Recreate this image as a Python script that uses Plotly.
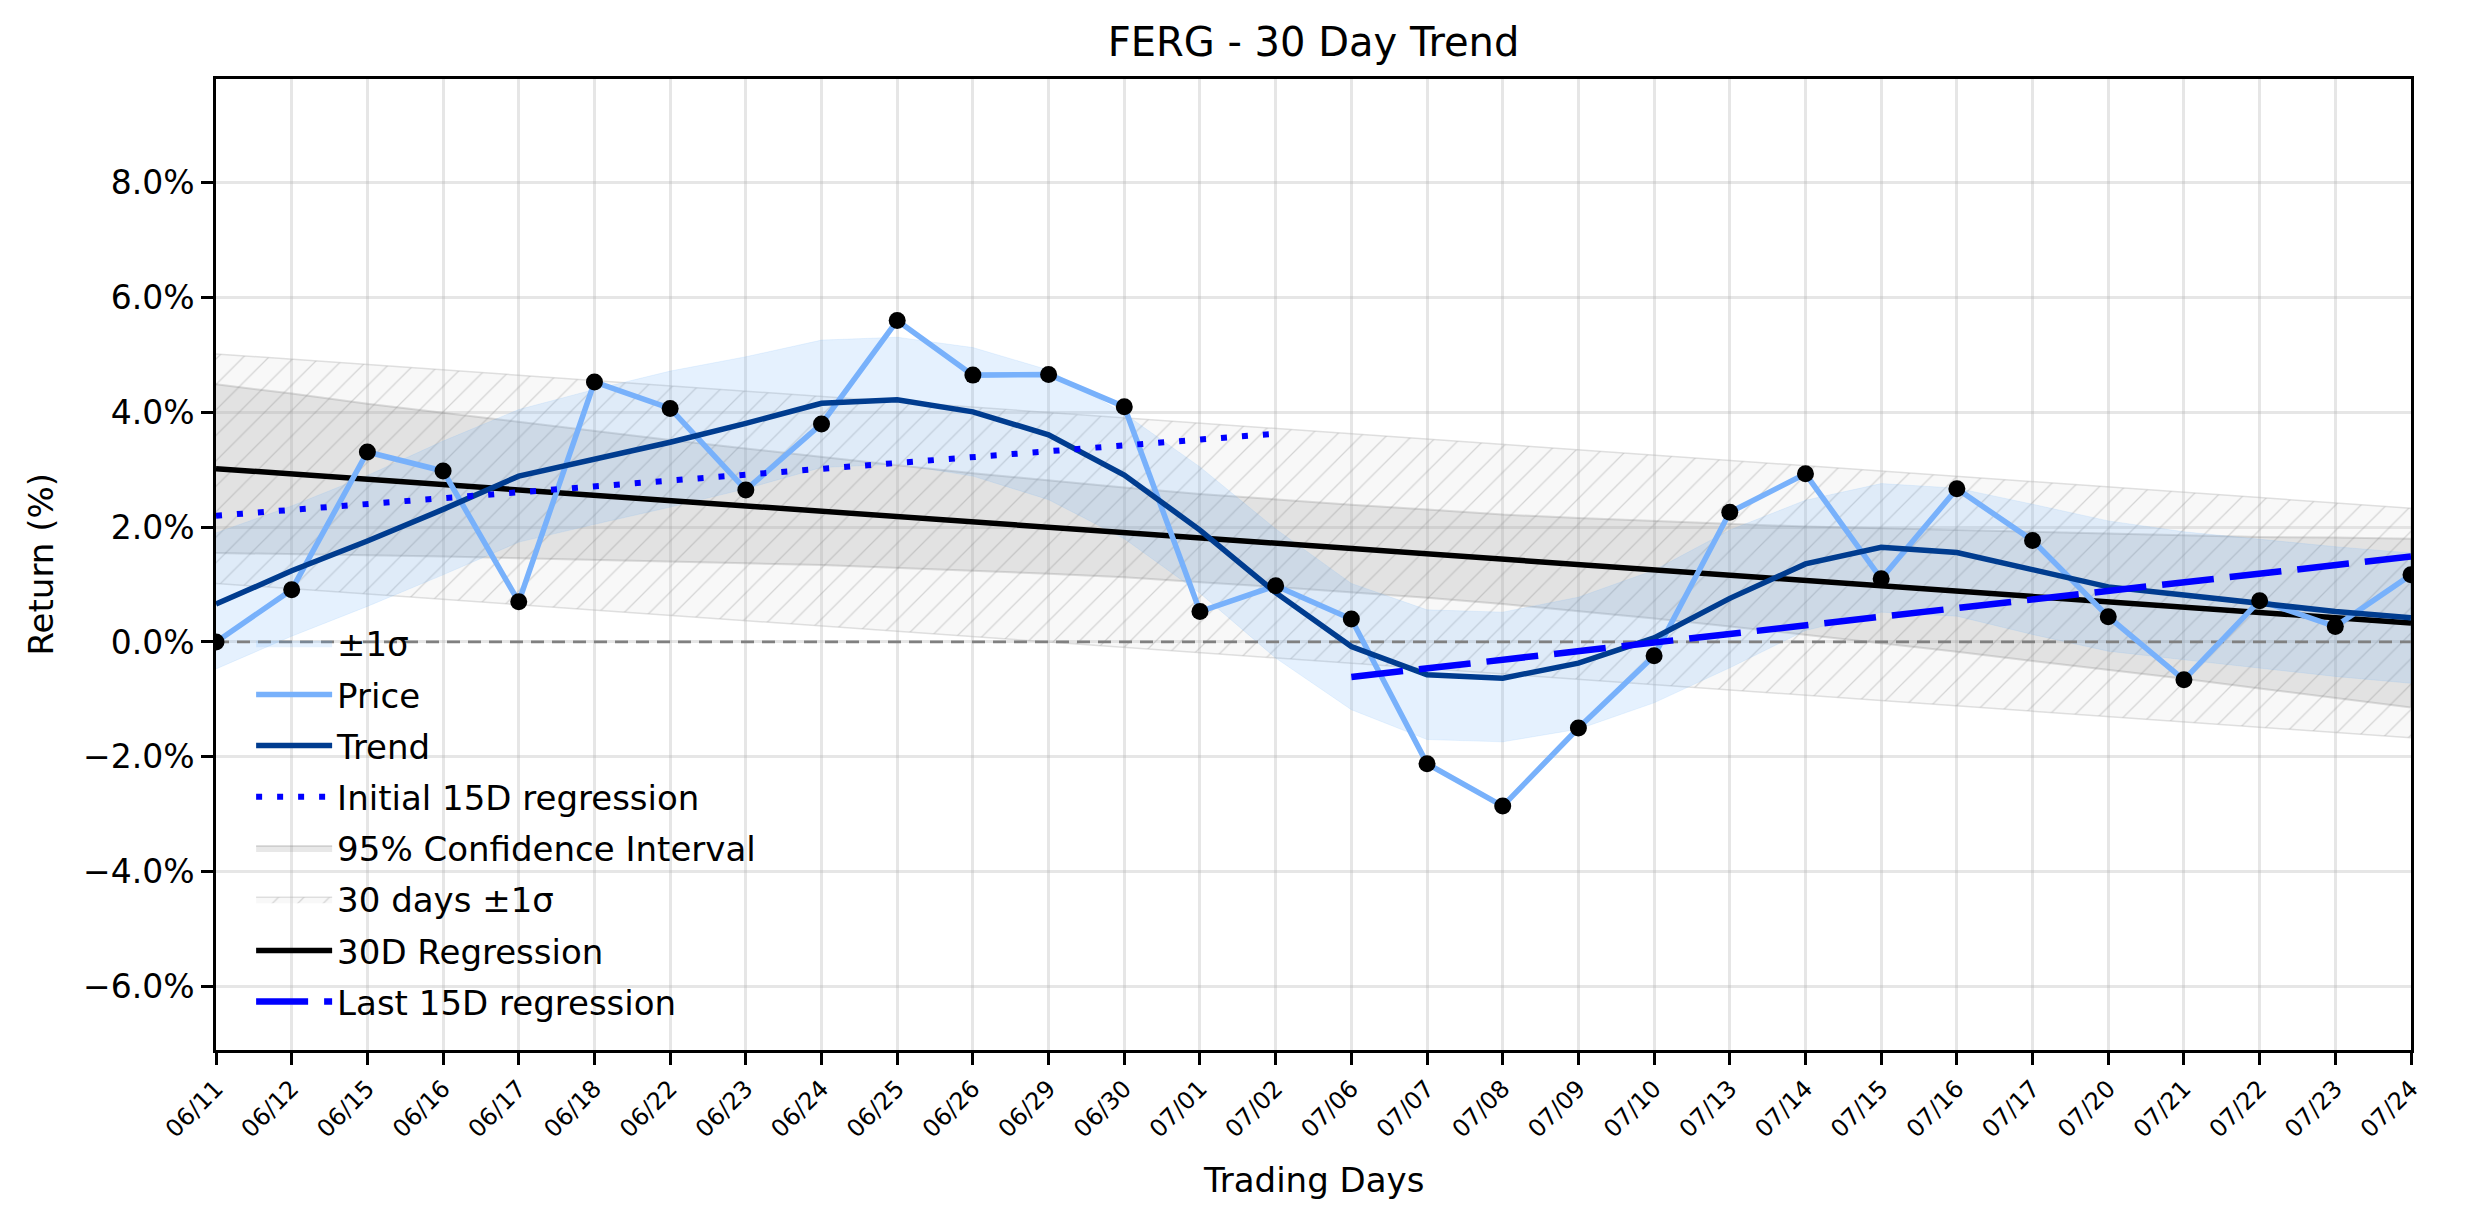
import plotly.graph_objects as go

# ---------------- data ----------------
dates = ["06/11", "06/12", "06/15", "06/16", "06/17", "06/18", "06/22", "06/23", "06/24", "06/25",
         "06/26", "06/29", "06/30", "07/01", "07/02", "07/06", "07/07", "07/08", "07/09", "07/10",
         "07/13", "07/14", "07/15", "07/16", "07/17", "07/20", "07/21", "07/22", "07/23", "07/24"]

price = [0.00, 0.91, 3.31, 2.98, 0.70, 4.53, 4.07, 2.65, 3.80, 5.60,
         4.65, 4.66, 4.10, 0.53, 0.98, 0.40, -2.12, -2.86, -1.50, -0.24,
         2.26, 2.93, 1.10, 2.67, 1.77, 0.44, -0.66, 0.72, 0.27, 1.17]

trend = [0.66, 1.24, 1.76, 2.31, 2.89, 3.18, 3.48, 3.81, 4.16, 4.22,
         4.01, 3.61, 2.91, 1.95, 0.86, -0.08, -0.57, -0.63, -0.37, 0.07,
         0.76, 1.36, 1.65, 1.56, 1.25, 0.96, 0.82, 0.67, 0.53, 0.42]

band_upper = [1.90, 2.37, 2.90, 3.50, 4.05, 4.40, 4.72, 4.97, 5.26, 5.31,
              5.13, 4.74, 3.98, 3.05, 1.97, 1.02, 0.56, 0.52, 0.78, 1.25,
              1.95, 2.47, 2.76, 2.68, 2.40, 2.11, 1.92, 1.79, 1.66, 1.55]

band_lower = [-0.47, 0.10, 0.62, 1.17, 1.74, 2.05, 2.35, 2.67, 3.04, 3.10,
              2.89, 2.48, 1.80, 0.85, -0.28, -1.18, -1.70, -1.74, -1.52, -1.06,
              -0.45, 0.20, 0.52, 0.45, 0.13, -0.16, -0.31, -0.46, -0.60, -0.72]

ci_upper = [4.49, 4.33, 4.15, 3.99, 3.84, 3.68, 3.52, 3.37, 3.22, 3.08,
            2.94, 2.81, 2.69, 2.58, 2.48, 2.39, 2.31, 2.22, 2.16, 2.11,
            2.05, 2.01, 1.98, 1.95, 1.91, 1.89, 1.86, 1.83, 1.82, 1.80]

ci_lower = [1.55, 1.53, 1.51, 1.49, 1.46, 1.44, 1.40, 1.37, 1.34, 1.30,
            1.24, 1.19, 1.13, 1.04, 0.96, 0.87, 0.77, 0.66, 0.54, 0.41,
            0.27, 0.13, -0.02, -0.17, -0.33, -0.49, -0.64, -0.81, -0.98, -1.14]

reg30_ends = [3.02, 0.33]          # 30D regression at first / last day
sigma_upper_ends = [5.02, 2.33]    # 30 days +1 sigma
sigma_lower_ends = [1.02, -1.67]   # 30 days -1 sigma
init15_ends = [2.20, 3.63]         # initial 15D regression (days 1..15)
last15_ends = [-0.61, 1.49]        # last 15D regression (days 16..30)
zero_level = 0.0

y_ticks = [-6, -4, -2, 0, 2, 4, 6, 8]
y_ticktext = [("\u2212" if v < 0 else "") + f"{abs(v):.1f}%" for v in y_ticks]

# ---------------- figure ----------------
n = len(dates)
xi = list(range(n))
first, last = xi[0], xi[-1]
half = n // 2

FONT = "DejaVu Sans"
fig = go.Figure()

# 30 days ±1σ hatched band
fig.add_trace(go.Scatter(
    x=[first, last, last, first], y=[sigma_upper_ends[0], sigma_upper_ends[1], sigma_lower_ends[1], sigma_lower_ends[0]],
    fill="toself", mode="lines", line=dict(color="rgba(180,180,180,0.4)", width=1.5),
    fillcolor="rgba(0,0,0,0)",
    fillpattern=dict(shape="/", size=18, solidity=0.07, fgcolor="rgba(160,160,160,0.4)",
                     bgcolor="rgba(210,210,210,0.14)", fillmode="replace"),
    name="30 days ±1σ", legendgroup="g6", legendrank=6, hoverinfo="skip"))

# 95% confidence interval
fig.add_trace(go.Scatter(
    x=xi + xi[::-1], y=ci_upper + ci_lower[::-1],
    fill="toself", mode="lines", line=dict(color="rgba(128,128,128,0.25)", width=2),
    fillcolor="rgba(128,128,128,0.18)",
    name="95% Confidence Interval", legendgroup="g5", legendrank=5, hoverinfo="skip"))

# ±1σ band around trend
fig.add_trace(go.Scatter(
    x=xi + xi[::-1], y=band_upper + band_lower[::-1],
    fill="toself", mode="lines", line=dict(color="rgba(100,170,250,0.12)", width=1),
    fillcolor="rgba(100,170,250,0.17)",
    name="±1σ", legendgroup="g1", legendrank=1, hoverinfo="skip"))

# zero line
fig.add_trace(go.Scatter(
    x=[first, last], y=[zero_level, zero_level], mode="lines",
    line=dict(color="#808080", width=2.8, dash="13px,8px"), showlegend=False, hoverinfo="skip"))

# 30D regression
fig.add_trace(go.Scatter(
    x=[first, last], y=reg30_ends, mode="lines", line=dict(color="black", width=5.5),
    name="30D Regression", legendgroup="g7", legendrank=7))

# Price
fig.add_trace(go.Scatter(
    x=xi, y=price, mode="lines", line=dict(color="#78B1FB", width=5.5),
    name="Price", legendgroup="g2", legendrank=2))

# Trend
fig.add_trace(go.Scatter(
    x=xi, y=trend, mode="lines", line=dict(color="#003C8F", width=5.5),
    name="Trend", legendgroup="g3", legendrank=3))

# Initial 15D regression
fig.add_trace(go.Scatter(
    x=[first, half - 1], y=init15_ends, mode="lines",
    line=dict(color="#0000FF", width=6, dash="6px,15px"),
    name="Initial 15D regression", legendgroup="g4", legendrank=4))

# Last 15D regression
fig.add_trace(go.Scatter(
    x=[half, last], y=last15_ends, mode="lines",
    line=dict(color="#0000FF", width=6.5, dash="52px,16px"),
    name="Last 15D regression", legendgroup="g8", legendrank=8))

# price markers
fig.add_trace(go.Scatter(
    x=xi, y=price, mode="markers", marker=dict(color="black", size=17),
    showlegend=False, hoverinfo="skip"))

W, H = 2474, 1224
ML, MR, MT, MB = 216, 63, 79, 174

fig.update_layout(
    width=W, height=H,
    margin=dict(l=ML, r=MR, t=MT, b=MB, pad=0),
    paper_bgcolor="white", plot_bgcolor="white",
    font=dict(family=FONT, size=34, color="black"),
    title=dict(text="FERG - 30 Day Trend", x=0.5, xref="paper", y=1 - 42 / H, yref="container",
               xanchor="center", yanchor="middle", font=dict(size=40, family=FONT, color="black")),
    showlegend=True,
    legend=dict(x=0.016, y=0.02, xanchor="left", yanchor="bottom",
                bgcolor="rgba(0,0,0,0)", borderwidth=0,
                font=dict(size=34, family=FONT, color="black"),
                traceorder="grouped", tracegroupgap=4, itemwidth=76),
    xaxis=dict(range=[first, last], tickmode="array", tickvals=xi, ticktext=dates,
               tickangle=-45, tickfont=dict(size=24, family=FONT, color="black"),
               ticks="outside", ticklen=12, tickwidth=2.5, tickcolor="black",
               showgrid=True, gridcolor="rgba(176,176,176,0.32)", gridwidth=2.5,
               showline=True, linecolor="black", linewidth=2.8, mirror=True, zeroline=False),
    yaxis=dict(range=[-7.11, 9.81], tickmode="array", tickvals=y_ticks, ticktext=y_ticktext,
               tickfont=dict(size=33, family=FONT, color="black"),
               ticks="outside", ticklen=12, tickwidth=2.5, tickcolor="black",
               showgrid=True, gridcolor="rgba(176,176,176,0.32)", gridwidth=2.5,
               showline=True, linecolor="black", linewidth=2.8, mirror=True, zeroline=False),
    annotations=[
        dict(text="Trading Days", xref="paper", yref="paper", x=0.5, y=-(1180 - (H - MB)) / (H - MT - MB),
             xanchor="center", yanchor="middle", showarrow=False, font=dict(size=34, family=FONT)),
        dict(text="Return (%)", xref="paper", yref="paper", x=-(ML - 40) / (W - ML - MR), y=0.5,
             xanchor="center", yanchor="middle", textangle=-90, showarrow=False,
             font=dict(size=34, family=FONT)),
    ],
)

fig.write_html("out.html")
